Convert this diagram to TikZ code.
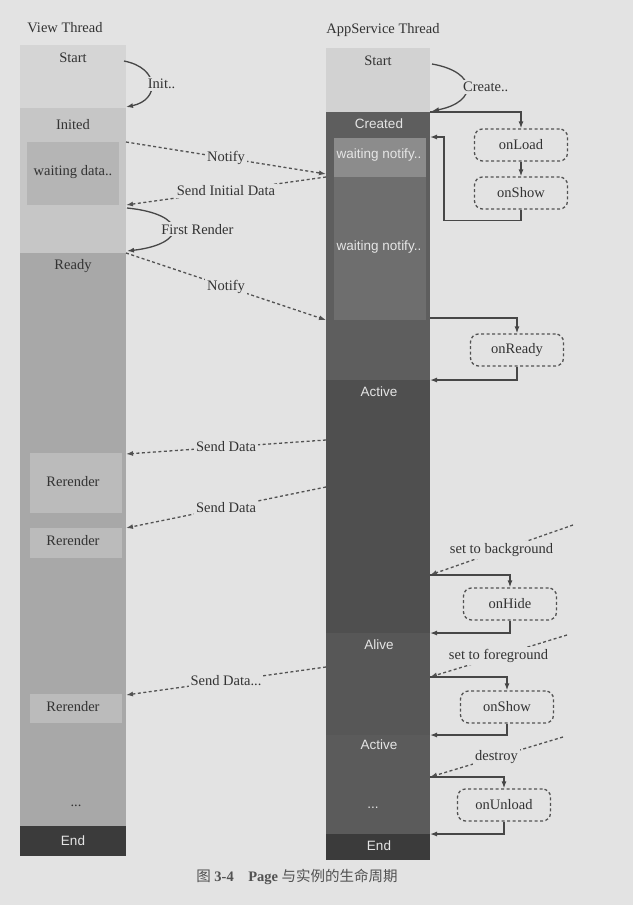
\documentclass[tikz,border=0pt]{standalone}
\usepackage{fontspec}
\setmainfont{Liberation Serif}
\newfontfamily\lsans{Liberation Sans}
\newfontfamily\cjk{Noto Sans CJK SC}
\usetikzlibrary{arrows.meta}
\definecolor{paper}{HTML}{E3E3E3}
\definecolor{ink}{HTML}{333333}
\definecolor{vA}{HTML}{D5D5D5}
\definecolor{vB}{HTML}{C6C6C6}
\definecolor{vC}{HTML}{B5B5B5}
\definecolor{vD}{HTML}{A8A8A8}
\definecolor{vE}{HTML}{BBBBBB}
\definecolor{aA}{HTML}{D2D2D2}
\definecolor{aB}{HTML}{5E5E5E}
\definecolor{aC}{HTML}{8C8C8C}
\definecolor{aD}{HTML}{6E6E6E}
\definecolor{aE}{HTML}{4F4F4F}
\definecolor{aF}{HTML}{575757}
\definecolor{aG}{HTML}{5B5B5B}
\definecolor{dk}{HTML}{3B3B3B}
\tikzset{
  lbl/.style={font=\fontsize{14.5}{16}\selectfont, text=ink, inner sep=1pt},
  wlbl/.style={font=\lsans\fontsize{13.5}{16}\selectfont, text=white!90!black, inner sep=1pt},
  tag/.style={lbl, fill=paper, inner sep=2pt},
  hook/.style={lbl, draw=ink!85, line width=1.3pt, dash pattern=on 3pt off 2.5pt,
    rounded corners=8pt, minimum width=93pt, minimum height=32pt},
  msg/.style={draw=ink!85, line width=1.3pt, dash pattern=on 3pt off 2.5pt, -{Latex[length=7pt,width=5pt]}},
  flow/.style={draw=ink!90, line width=1.3pt, -{Latex[length=7pt,width=5pt]}},
  curve/.style={draw=ink!90, line width=1.3pt, -{Latex[length=7pt,width=5pt]}},
}
\begin{document}
\begin{tikzpicture}[x=1pt,y=-1pt]
  \fill[paper] (0,0) rectangle (633,905);
  \useasboundingbox (0,0) rectangle (633,905);
  % columns
  \foreach \t/\b/\c in {45/108/vA, 108/253/vB, 253/826/vD, 826/856/dk}{
    \fill[\c] (20,\t) rectangle (126,\b);
  }
  \fill[vC] (27,142) rectangle (119,205);
  \foreach \t/\b in {453/513, 528/558, 694/723}{
    \fill[vE] (30,\t) rectangle (122,\b);
  }
  \foreach \t/\b/\c in {48/112/aA, 112/380/aB, 380/633/aE, 633/735/aF, 735/834/aG, 834/860/dk}{
    \fill[\c] (326,\t) rectangle (430,\b);
  }
  \fill[aD] (334,138) rectangle (426,320);
  \fill[aC] (334,138) rectangle (426,177);
  % titles and labels
  \node[lbl](vTitle) at (65,28){View Thread};
  \node[lbl](aTitle) at (383,30){AppService Thread};
  \foreach \n/\y/\t in {vS/58/Start, vI/125/Inited, vW/172/waiting data.., vR/266/Ready,
    vR1/482/Rerender, vR2/541/Rerender, vR3/707/Rerender}{
    \node[lbl](\n) at (73,\y){\t};
  }
  \node[lbl](vDots) at (76,806){...};
  \node[wlbl](vEnd) at (73,841){End};
  \node[lbl](aS) at (378,61){Start};
  \foreach \n/\y/\t in {aC/124/Created, aW1/155/waiting notify.., aW2/247/waiting notify..,
    aA1/392/Active, aL/645/Alive, aA2/745/Active, aEnd/846/End}{
    \node[wlbl](\n) at (379,\y){\t};
  }
  \node[wlbl](aDots) at (373,808){...};
  % lifecycle hooks
  \foreach \n/\x/\y/\t in {hLoad/521/145/onLoad, hShow/521/193/onShow, hReady/517/350/onReady,
    hHide/510/604/onHide, hShow2/507/707/onShow, hUnload/504/805/onUnload}{
    \node[hook](\n) at (\x,\y){\t};
  }
  % edge points
  \foreach \n/\y in {v1/142, v2/205, v3/253, v4/454, v5/528, v6/695}{
    \coordinate(\n) at (126,\y);
  }
  \foreach \n/\y in {a1/174, a2/177, a3/320, a4/440, a5/487, a6/667}{
    \coordinate(\n) at (326,\y);
  }
  \foreach \n/\y in {r1/112, r2/137, r3/318, r4/380, r5/575, r6/633, r7/677, r8/735, r9/777, r10/834}{
    \coordinate(\n) at (430,\y);
  }
  \coordinate(e1) at (573,525);
  \coordinate(e2) at (567,635);
  \coordinate(e3) at (563,737);
  % messages between threads
  \foreach \s/\e/\t in {v1/a1/Notify, a2/v2/Send Initial Data, v3/a3/Notify, a4/v4/Send Data, a5/v5/Send Data}{
    \draw[msg](\s)--node[tag]{\t}(\e);
  }
  \draw[msg](a6)--node[tag]{Send Data...}(v6);
  \foreach \s/\e/\t in {e1/r5/set to background, e2/r7/set to foreground, e3/r9/destroy}{
    \draw[msg](\s)--node[tag]{\t}(\e);
  }
  % state changes
  \draw[curve](124,61) .. controls (160,68) and (160,100) .. node[tag, right=-6pt]{Init..} (126,107);
  \draw[curve](432,64) .. controls (478,72) and (478,102) .. node[tag, right=-6pt]{Create..} (432,111);
  \draw[curve](127,208) .. controls (188,214) and (188,244) .. node[tag, right=-14pt]{First Render} (127,251);
  % hooks
  \draw[flow](r1)-|(hLoad);
  \draw[flow](hLoad)--(hShow);
  \draw[flow](hShow.south)--++(0,11)-|([xshift=14pt]r2)--(r2);
  \foreach \a/\h/\b in {r3/hReady/r4, r5/hHide/r6, r7/hShow2/r8, r9/hUnload/r10}{
    \draw[flow](\a)-|(\h);
    \draw[flow](\h)|-(\b);
  }
  \node[lbl, text=ink!85](cap) at (297,877){{\cjk 图} \textbf{3-4}\quad\textbf{Page} {\cjk 与实例的生命周期}};
\end{tikzpicture}
\end{document}
